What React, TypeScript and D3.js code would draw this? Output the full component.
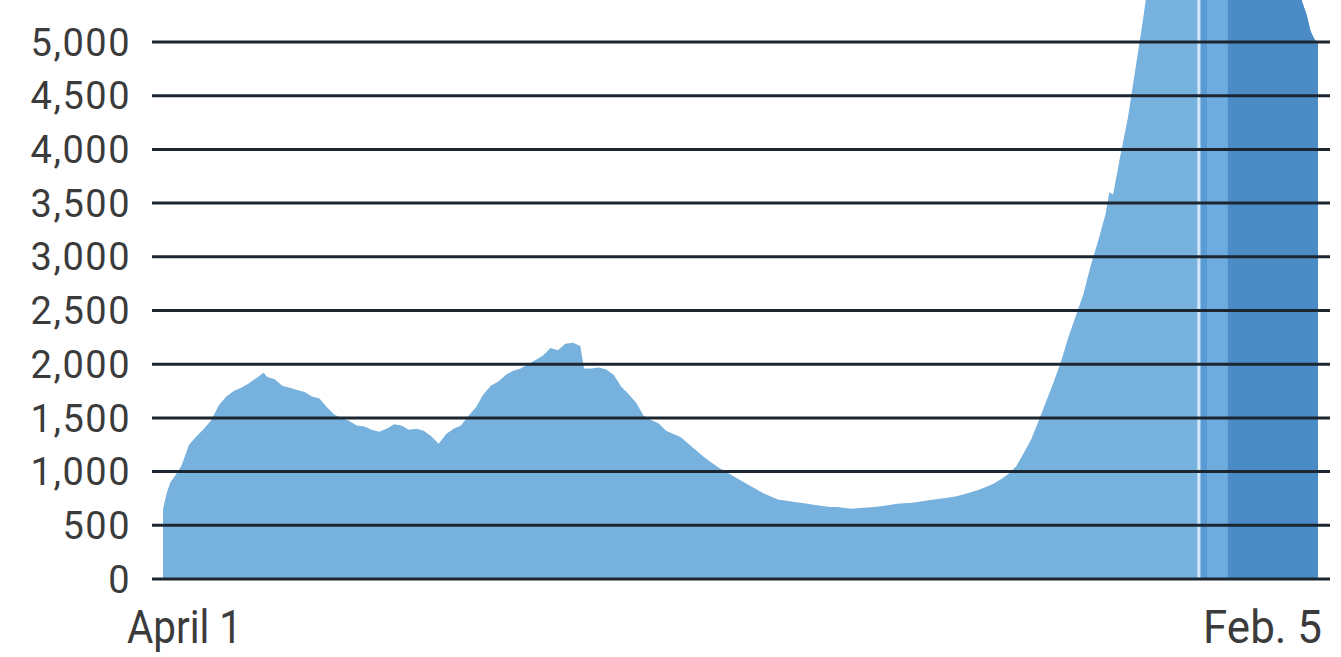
import React from 'react';
import * as d3 from 'd3';

// Daily figures, indexed by days since April 1
const sampleDays = [
  0, 1, 2, 4, 5, 7, 9, 11, 13, 15, 17, 19, 21, 23, 25, 27, 28, 30, 32, 34, 36, 38, 40, 42, 44, 46, 48, 50,
  52, 54, 56, 58, 60, 62, 64, 66, 68, 70, 72, 74, 76, 78, 80, 82, 84, 86, 88, 90, 92, 94, 96, 98, 100, 102,
  104, 106, 108, 110, 112, 113, 115, 117, 119, 121, 123, 125, 127, 129, 131, 133, 135, 137, 139, 141, 143,
  145, 147, 149, 151, 153, 155, 157, 159, 161, 163, 165, 167, 169, 171, 173, 175, 177, 179, 181, 183, 185,
  187, 189, 191, 193, 195, 197, 199, 201, 203, 205, 207, 209, 211, 213, 215, 217, 219, 221, 223, 225, 227,
  229, 231, 233, 235, 237, 239, 241, 243, 245, 247, 249, 251, 253, 254, 255, 257, 259, 261, 263, 265, 267,
  270, 273, 276, 279, 282, 285, 288, 291, 294, 297, 300, 303, 305, 306, 307, 308, 309, 310,
];

const dailyValues = [
  650, 800, 900, 1000, 1060, 1250, 1330, 1400, 1480, 1620, 1700, 1750, 1780, 1820, 1870, 1920, 1880, 1860,
  1800, 1780, 1760, 1740, 1700, 1680, 1600, 1530, 1500, 1470, 1430, 1420, 1390, 1370, 1400, 1440, 1430,
  1390, 1400, 1380, 1330, 1260, 1350, 1400, 1430, 1520, 1600, 1720, 1800, 1840, 1900, 1940, 1960, 2000,
  2040, 2080, 2150, 2130, 2190, 2200, 2170, 1960, 1960, 1970, 1950, 1900, 1790, 1720, 1640, 1520, 1480,
  1450, 1380, 1350, 1320, 1260, 1200, 1140, 1090, 1040, 1000, 960, 920, 880, 840, 800, 770, 740, 730, 720,
  710, 700, 690, 680, 670, 670, 660, 655, 660, 665, 670, 680, 690, 700, 705, 710, 720, 730, 740, 750, 760,
  770, 790, 810, 830, 860, 890, 930, 980, 1050, 1170, 1300, 1470, 1650, 1830, 2020, 2250, 2450, 2650, 2920,
  3150, 3400, 3600, 3580, 3950, 4300, 4750, 5200, 5700, 6000, 6400, 6700, 6900, 7000, 7100, 7100, 7000,
  6900, 6700, 6400, 6000, 5700, 5450, 5350, 5250, 5100, 5030, 4980,
];

const yTicks = [0, 500, 1000, 1500, 2000, 2500, 3000, 3500, 4000, 4500, 5000];
const xTickDays = [0, 310];
const xTickLabels = ['April 1', 'Feb. 5'];

// shaded stretch at the end of the series (day ranges)
const bandDays: [number, number][] = [
  [277.6, 278.5],
  [278.5, 280.2],
  [280.2, 285.8],
  [285.8, 312],
];
const bandFills = ['#cfe6f8', '#5b9bd3', '#6eabde', '#4b8cc6'];

const W = 1341;
const H = 657;

export default function App() {
  const x = d3.scaleLinear().domain([0, 310]).range([163, 1318]);
  const y = d3.scaleLinear().domain([0, 5000]).range([579, 42]);
  const fmt = d3.format(',');

  const points = sampleDays.map((d, i) => [d, dailyValues[i]] as [number, number]);
  const area = d3
    .area<[number, number]>()
    .x(d => x(d[0]))
    .y0(y(0))
    .y1(d => y(d[1]))
    .curve(d3.curveLinear);
  const areaD = area(points) || '';

  return (
    <svg
      width={W}
      height={H}
      style={{ position: 'absolute', left: 0, top: 0, background: '#fff' }}
    >
      <defs>
        <clipPath id="area-clip">
          <path d={areaD} />
        </clipPath>
      </defs>

      <path d={areaD} fill="#77b1de" />

      <g clipPath="url(#area-clip)">
        {bandDays.map(([a, b], i) => (
          <rect key={i} x={x(a)} y={0} width={x(b) - x(a)} height={y(0)} fill={bandFills[i]} />
        ))}
      </g>

      {/* gridlines over the area */}
      {yTicks.map(t => (
        <g key={t}>
          <line x1={152} x2={1330} y1={y(t)} y2={y(t)} stroke="#1c2631" strokeWidth={3} />
          <text
            x={131}
            y={y(t)}
            dy="0.36em"
            textAnchor="end"
            fontFamily="Roboto, 'Liberation Sans', sans-serif"
            fontSize={38}
            letterSpacing={1.5}
            fill="#3b3b3b"
          >
            {fmt(t)}
          </text>
        </g>
      ))}

      {xTickDays.map((d, i) => (
        <text
          key={i}
          x={i === 0 ? x(d) - 36 : x(d) + 4}
          y={643}
          textAnchor={i === 0 ? 'start' : 'end'}
          fontFamily="Roboto, 'Liberation Sans', sans-serif"
          fontSize={46}
          textLength={i === 0 ? 115 : 119}
          lengthAdjust="spacingAndGlyphs"
          fill="#3b3b3b"
        >
          {xTickLabels[i]}
        </text>
      ))}
    </svg>
  );
}
